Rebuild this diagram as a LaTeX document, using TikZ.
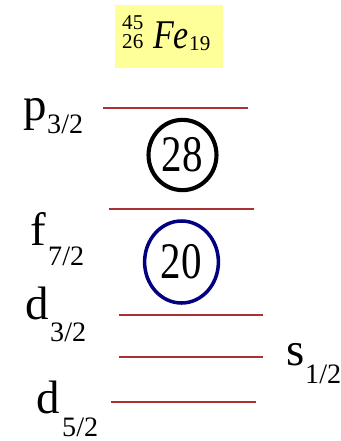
\documentclass[tikz,border=0pt]{standalone}
\usepackage{fontspec}
\setmainfont{Liberation Serif}
\usetikzlibrary{shapes.geometric}
\definecolor{levelred}{HTML}{A83232}
\definecolor{titleyellow}{HTML}{FFFF99}
\definecolor{navy}{HTML}{000080}

\begin{document}
\begin{tikzpicture}[x=0.03cm, y=-0.03cm,
    lvl/.style={inner sep=0pt, anchor=base west, font=\fontsize{40}{40}\selectfont},
    sub/.style={inner sep=0pt, anchor=base west, font=\fontsize{24}{24}\selectfont},
    script/.style={inner sep=0pt, anchor=base west, font=\fontsize{18}{18}\selectfont},
    level/.style={levelred, line width=1.5pt},
    magic/.style={ellipse, inner sep=0pt, font=\fontsize{35}{35}\selectfont}]
    \useasboundingbox (0,0) rectangle (341,441);

    % Nucleus label
    \fill[titleyellow] (115,5) rectangle (223,68);
    \node[script] (mass) at (122,29) {45};
    \node[script] (charge) at (122,48) {26};
    \node[lvl, font=\fontsize{29}{29}\selectfont\itshape] (elem) at (153,48) {\scalebox{1}[1.2]{Fe}};
    \node[script] (neutr) at (189,50) {19};

    % Levels
    \draw[level] (103,108) -- (248,108);
    \draw[level] (109,209) -- (254,209);
    \draw[level] (119,315) -- (263,315);
    \draw[level] (119,357) -- (263,357);
    \draw[level] (111,402) -- (256,402);

    % Orbital names
    \node[lvl] (p32) at (23,120) {p};
    \node[sub] (p32sub) at (47,133) {3/2};
    \node[lvl] (f72) at (30,245) {f};
    \node[sub] (f72sub) at (48,265) {7/2};
    \node[lvl] (d32) at (25,319) {d};
    \node[sub] (d32sub) at (50,341) {3/2};
    \node[lvl] (s12) at (286,365) {s};
    \node[sub] (s12sub) at (305,383) {1/2};
    \node[lvl] (d52) at (36,413) {d};
    \node[sub] (d52sub) at (62,436) {5/2};

    % Magic numbers
    \node[magic, draw=black, line width=3.5pt, minimum width=58, minimum height=60] (m28) at (182.5,155) {\scalebox{1}[1.25]{28}};
    \node[magic, draw=navy, line width=3pt, minimum width=63, minimum height=70] (m20) at (181.5,262) {\scalebox{1}[1.25]{20}};

  \end{tikzpicture}
\end{document}
